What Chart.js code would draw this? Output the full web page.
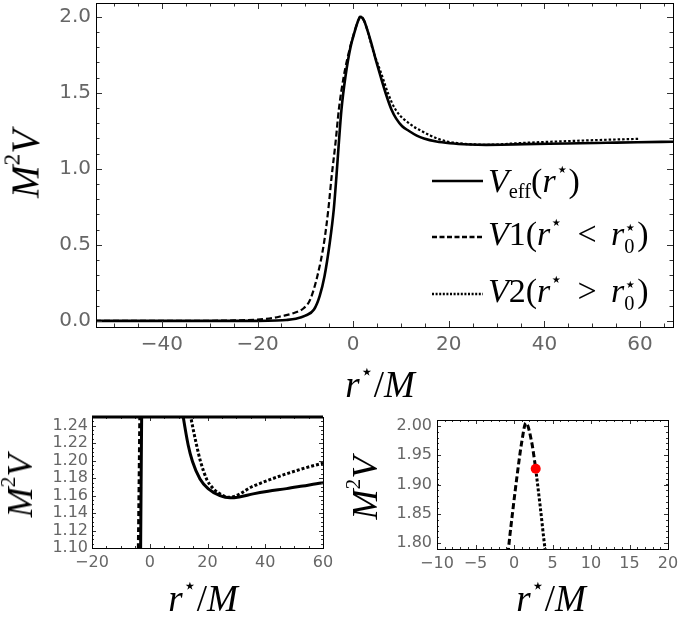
<!DOCTYPE html>
<html lang="en">
<head>
<meta charset="UTF-8">
<title>Effective potential</title>
<script src="https://cdn.jsdelivr.net/npm/chart.js"></script>
<style>
  body { margin: 0; background: #fff; }
  #wrap { position: relative; width: 680px; height: 627px; overflow: hidden; }
  .panel { position: absolute; }
  .math { position: absolute; font-family: 'Liberation Serif', 'DejaVu Serif', serif; color: #000; white-space: nowrap; line-height: 1; }
  .math i { font-style: italic; }
  .math sup, .math sub { font-size: 0.6em; line-height: 0; position: relative; vertical-align: baseline; }
  .math sup { top: -0.8em; }
  .math sub { top: 0.3em; }
  .ss { display: inline-flex; flex-direction: column; font-size: 0.6em; line-height: 0.95; vertical-align: 0.55em; }
  .op { margin: 0 0.42em; }
  .ytitle { transform: translate(-50%, -50%) rotate(-90deg); }
  .xtitle { transform: translate(-50%, -50%); }
  .legrow { position: absolute; left: 432px; height: 40px; display: flex; align-items: center; font-size: 34px; }
  .legrow svg { margin-right: 5px; }
</style>
</head>
<body>
<div id="wrap">
  <canvas id="mainChart" class="panel" width="680" height="400" style="left:0;top:0"></canvas>
  <canvas id="zoomA" class="panel" width="340" height="227" style="left:0;top:400px"></canvas>
  <canvas id="zoomB" class="panel" width="340" height="227" style="left:340px;top:400px"></canvas>

  <div class="math ytitle" style="left:25px;top:164px;font-size:39px"><i>M</i><sup>2</sup><i>V</i></div>
  <div class="math xtitle" style="left:380px;top:384px;font-size:37px"><i>r</i><sup>⋆</sup>/<i>M</i></div>
  <div class="math ytitle" style="left:20px;top:486px;font-size:36px"><i>M</i><sup>2</sup><i>V</i></div>
  <div class="math xtitle" style="left:203px;top:598px;font-size:37px"><i>r</i><sup>⋆</sup>/<i>M</i></div>
  <div class="math ytitle" style="left:365px;top:488px;font-size:36px"><i>M</i><sup>2</sup><i>V</i></div>
  <div class="math xtitle" style="left:551px;top:598px;font-size:37px"><i>r</i><sup>⋆</sup>/<i>M</i></div>

  <div id="legend"></div>
</div>

<script>
  // effective potential (solid)
  var veffX = [-54, -30, -20, -16, -14, -12, -10, -8.2, -7, -6, -4.9, -4.06, -3.5, -3.0, -2.45, -1.6, -0.56, 0.3, 1.0, 1.55,
               2.3, 2.82, 3.76, 4.7, 5.7, 6.76, 8.0, 9.0, 10.25, 11.6, 13.3, 14.8, 17.4, 20.2, 24.3, 27.8, 31, 35.8, 41, 47.4, 53, 59.5, 67];
  var veffY = [0, 0.0001, 0.0004, 0.0024, 0.0058, 0.014, 0.035, 0.075, 0.165, 0.294, 0.514, 0.733, 0.952, 1.17, 1.39, 1.61, 1.80, 1.90, 1.97, 2.0,
               1.972, 1.927, 1.83, 1.72, 1.61, 1.50, 1.39, 1.33, 1.28, 1.25, 1.218, 1.199, 1.179, 1.168, 1.160, 1.1575, 1.1585, 1.162, 1.165, 1.168, 1.171, 1.1745, 1.178];

  // V1, r* < r0* (dashed)
  var v1X = [-54, -30, -25, -20, -17, -15, -12.8, -10.3, -9, -7.5, -6.1, -5.2, -4.5, -3.7, -3.0, -1.96, -0.72, -0.07, 0.4, 1.0, 1.55, 2.3, 2.82];
  var v1Y = [0, 0.001, 0.003, 0.009, 0.018, 0.031, 0.048, 0.085, 0.14, 0.294, 0.514, 0.733, 0.952, 1.17, 1.39, 1.61, 1.79, 1.865, 1.915, 1.972, 2.005, 1.972, 1.927];

  // V2, r* > r0* (dotted)
  var v2X = [2.82, 3.4, 4.03, 6.06, 7.24, 8.85, 12.3, 14.2, 16.2, 17.6, 19.7, 22.0, 25.4, 27.6, 35.8, 47.4, 59.5, 60];
  var v2Y = [1.927, 1.863, 1.79, 1.61, 1.50, 1.39, 1.285, 1.25, 1.218, 1.199, 1.179, 1.168, 1.160, 1.158, 1.1707, 1.185, 1.1967, 1.197];

  // matching point r0*
  var r0X = [2.82];
  var r0Y = [1.927];

  var mainXTicks = [-40, -20, 0, 20, 40, 60];
  var mainYTicks = [0, 0.5, 1.0, 1.5, 2.0];
  var zoomAXTicks = [-20, 0, 20, 40, 60];
  var zoomAYTicks = [1.10, 1.12, 1.14, 1.16, 1.18, 1.20, 1.22, 1.24];
  var zoomBXTicks = [-10, -5, 0, 5, 10, 15, 20];
  var zoomBYTicks = [1.80, 1.85, 1.90, 1.95, 2.00];

  function pts(xs, ys) {
    return xs.map(function (x, i) { return { x: x, y: ys[i] }; });
  }

  function minusSign(s) { return String(s).replace('-', '\u2212'); }

  // frame with inward ticks on all four sides, like the original plot
  var frameTicks = {
    id: 'frameTicks',
    afterDatasetsDraw: function (chart, args, o) {
      var ctx = chart.ctx, a = chart.chartArea, sx = chart.scales.x, sy = chart.scales.y;
      ctx.save();
      ctx.strokeStyle = '#333';
      ctx.lineWidth = 1;
      ctx.beginPath();
      function steps(scale, step) {
        var out = [];
        for (var v = Math.ceil(scale.min / step - 1e-9) * step; v <= scale.max + 1e-9; v += step) out.push(v);
        return out;
      }
      function xMarks(vals, len) {
        vals.forEach(function (v) {
          var p = Math.round(sx.getPixelForValue(v)) + 0.5;
          ctx.moveTo(p, a.bottom); ctx.lineTo(p, a.bottom - len);
          ctx.moveTo(p, a.top); ctx.lineTo(p, a.top + len);
        });
      }
      function yMarks(vals, len) {
        vals.forEach(function (v) {
          var p = Math.round(sy.getPixelForValue(v)) + 0.5;
          ctx.moveTo(a.left, p); ctx.lineTo(a.left + len, p);
          ctx.moveTo(a.right, p); ctx.lineTo(a.right - len, p);
        });
      }
      xMarks(steps(sx, o.xMinor), o.minorLen);
      xMarks(o.xMajor, o.majorLen);
      yMarks(steps(sy, o.yMinor), o.minorLen);
      yMarks(o.yMajor, o.majorLen);
      ctx.stroke();
      ctx.strokeStyle = '#000';
      ctx.strokeRect(Math.round(a.left) + 0.5, Math.round(a.top) + 0.5, Math.round(a.right - a.left), Math.round(a.bottom - a.top));
      if (o.topWidth) {
        ctx.lineWidth = o.topWidth;
        ctx.beginPath();
        ctx.moveTo(a.left, a.top); ctx.lineTo(a.right, a.top);
        ctx.stroke();
      }
      ctx.restore();
    }
  };

  function axis(cfg) {
    return {
      type: 'linear',
      min: cfg.min,
      max: cfg.max,
      grid: { display: false, drawTicks: false },
      border: { display: false },
      afterBuildTicks: function (scale) {
        scale.ticks = cfg.ticks.map(function (v) { return { value: v }; });
      },
      afterFit: function (scale) {
        if (cfg.width) scale.width = cfg.width;
        if (cfg.height) scale.height = cfg.height;
        // the frame sits at fixed pixels, so no room is kept for overhanging labels
        scale.paddingTop = 0; scale.paddingBottom = 0;
        scale.paddingLeft = 0; scale.paddingRight = 0;
      },
      ticks: {
        color: '#666',
        padding: cfg.pad,
        maxRotation: 0,
        autoSkip: false,
        font: { family: 'DejaVu Sans', size: cfg.size },
        callback: function (v) { return minusSign(cfg.digits ? v.toFixed(cfg.digits) : v); }
      }
    };
  }

  function lineSet(label, xs, ys, width, dash) {
    return {
      label: label,
      data: pts(xs, ys),
      borderColor: '#000',
      borderWidth: width,
      borderDash: dash,
      pointRadius: 0,
      fill: false,
      cubicInterpolationMode: 'monotone'
    };
  }

  function makeChart(id, datasets, padding, xAxis, yAxis, frame) {
    return new Chart(document.getElementById(id), {
      type: 'line',
      data: { datasets: datasets },
      options: {
        responsive: false,
        animation: false,
        devicePixelRatio: 1,
        layout: { padding: padding },
        plugins: { legend: { display: false }, tooltip: { enabled: false }, frameTicks: frame },
        scales: { x: axis(xAxis), y: axis(yAxis) }
      },
      plugins: [frameTicks]
    });
  }

  var mainSets = [
    lineSet('V1', v1X, v1Y, 2.2, [6, 3]),
    lineSet('V2', v2X, v2Y, 2.2, [2.5, 2]),
    lineSet('Veff', veffX, veffY, 2.6, [])
  ];

  makeChart('mainChart', mainSets,
    { top: 3, right: 7, left: 0, bottom: 0 },
    { min: -53.8, max: 66.9, ticks: mainXTicks, size: 20, pad: 6, height: 73 },
    { min: -0.04, max: 2.09, ticks: mainYTicks, size: 20, pad: 5, width: 96, digits: 1 },
    { xMajor: mainXTicks, xMinor: 5, yMajor: mainYTicks, yMinor: 0.1, majorLen: 6, minorLen: 3.5 });

  makeChart('zoomA', [
      lineSet('V2', v2X, v2Y, 3, [3, 2]),
      lineSet('V1', v1X, v1Y, 3, [5, 3]),
      lineSet('Veff', veffX, veffY, 3, [])
    ],
    { top: 17, right: 17, left: 0, bottom: 0 },
    { min: -20, max: 60, ticks: zoomAXTicks, size: 16, pad: 5, height: 79 },
    { min: 1.10, max: 1.25, ticks: zoomAYTicks, size: 16, pad: 4, width: 92, digits: 2 },
    { xMajor: zoomAXTicks, xMinor: 5, yMajor: zoomAYTicks, yMinor: 0.005, majorLen: 4, minorLen: 2, topWidth: 3 });

  var dot = {
    label: 'r0',
    data: pts(r0X, r0Y),
    showLine: false,
    pointRadius: 5,
    pointBackgroundColor: '#ff0000',
    pointBorderWidth: 0
  };
  makeChart('zoomB', [
      dot,
      lineSet('V1', v1X, v1Y, 3, [6, 3]),
      lineSet('V2', v2X, v2Y, 3, [3, 2])
    ],
    { top: 20, right: 12, left: 0, bottom: 0 },
    { min: -10, max: 20, ticks: zoomBXTicks, size: 16, pad: 5, height: 78 },
    { min: 1.79, max: 2.01, ticks: zoomBYTicks, size: 16, pad: 5, width: 97, digits: 2 },
    { xMajor: zoomBXTicks, xMinor: 1, yMajor: zoomBYTicks, yMinor: 0.01, majorLen: 4, minorLen: 2 });

  // legend for the main panel, drawn as html so the math can carry sub/superscripts
  var legendRows = [
    { y: 181, dash: '', html: '<i>V</i><sub>eff</sub>(<i>r</i><sup>⋆</sup>)' },
    { y: 237, dash: '5,2.5', html: '<i>V</i>1(<i>r</i><sup>⋆</sup><span class="op">&lt;</span><i>r</i><span class="ss"><span>⋆</span><span>0</span></span>)' },
    { y: 294, dash: '2,1.6', html: '<i>V</i>2(<i>r</i><sup>⋆</sup><span class="op">&gt;</span><i>r</i><span class="ss"><span>⋆</span><span>0</span></span>)' }
  ];
  var leg = document.getElementById('legend');
  legendRows.forEach(function (row) {
    var d = document.createElement('div');
    d.className = 'math legrow';
    d.style.top = (row.y - 20) + 'px';
    d.innerHTML = '<svg width="51" height="6"><line x1="0" y1="3" x2="51" y2="3" stroke="#000" stroke-width="2.5"' +
      (row.dash ? ' stroke-dasharray="' + row.dash + '"' : '') + '/></svg><span>' + row.html + '</span>';
    leg.appendChild(d);
  });
</script>
</body>
</html>
